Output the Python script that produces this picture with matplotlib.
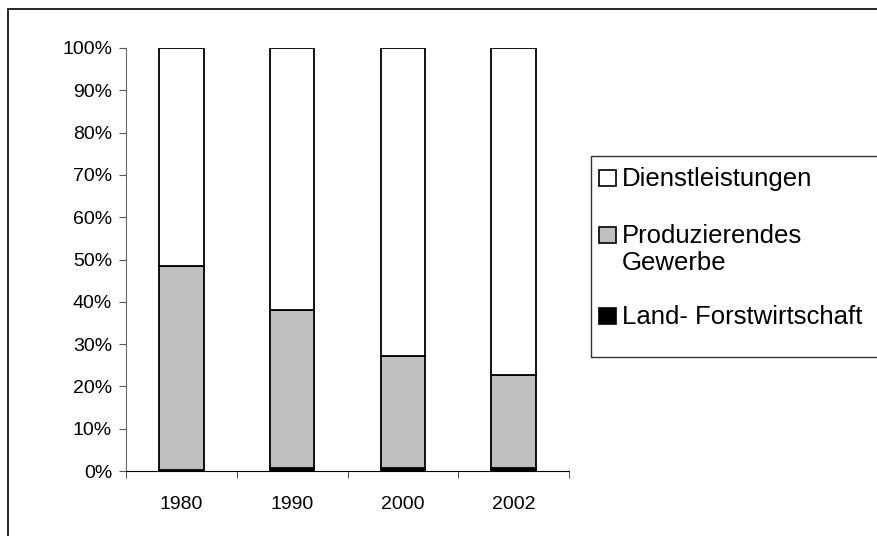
import matplotlib
matplotlib.use('Agg')
import matplotlib.pyplot as plt
from matplotlib.patches import Rectangle
from matplotlib.ticker import FixedLocator

plt.rcParams['font.family'] = ['Liberation Sans', 'DejaVu Sans']

# data (percent shares)
years = ['1980', '1990', '2000', '2002']
land = [0.3, 0.6, 0.6, 0.6]
gewerbe = [48.2, 37.5, 26.6, 22.0]
dienst = [51.5, 61.9, 72.8, 77.4]
labels = ['Dienstleistungen', 'Produzierendes\nGewerbe', 'Land- Forstwirtschaft']
colors = ['white', '#C0C0C0', 'black']

W, H = 877, 536
fig = plt.figure(figsize=(W / 100, H / 100), dpi=100)

def fx(x):
    return x / W

def fy(y):
    return 1 - y / H

ax = fig.add_axes([fx(126), fy(471), fx(569) - fx(126), fy(48) - fy(471)])

x = range(len(years))
bottom2 = [a + b for a, b in zip(land, gewerbe)]
ax.bar(x, land, width=0.4, color=colors[2], edgecolor='black', linewidth=1.3)
ax.bar(x, gewerbe, width=0.4, bottom=land, color=colors[1], edgecolor='black', linewidth=1.3)
ax.bar(x, dienst, width=0.4, bottom=bottom2, color=colors[0], edgecolor='black', linewidth=1.3)

ax.set_xlim(-0.5, 3.5)
ax.set_ylim(0, 100)
ax.set_yticks(range(0, 101, 10))
ax.set_yticklabels([f'{v}%' for v in range(0, 101, 10)], fontsize=14)
ax.set_xticks(list(x))
ax.set_xticklabels(years, fontsize=14)
ax.xaxis.set_minor_locator(FixedLocator([-0.5, 0.5, 1.5, 2.5, 3.5]))
ax.tick_params(axis='x', which='major', length=0, pad=18)
ax.tick_params(axis='x', which='minor', length=5, direction='out', color='#333333')
ax.tick_params(axis='y', length=5, direction='out', color='#555555', pad=5)

for s in ['top', 'right']:
    ax.spines[s].set_visible(False)
ax.spines['left'].set_color('#666666')
ax.spines['bottom'].set_color('black')

# outer chart frame (cut at right and bottom edge)
fig.add_artist(Rectangle((fx(8), fy(560)), fx(920) - fx(8), fy(9) - fy(560),
                         transform=fig.transFigure, fill=False,
                         edgecolor='black', linewidth=1.2, clip_on=False))

# legend box
fig.add_artist(Rectangle((fx(591), fy(357)), fx(900) - fx(591), fy(156) - fy(357),
                         transform=fig.transFigure, fill=False,
                         edgecolor='#333333', linewidth=1.0, clip_on=False))

baselines = [186, 243, 324]
for lab, col, yb in zip(labels, colors, baselines):
    fig.add_artist(Rectangle((fx(599), fy(yb)), fx(616) - fx(599), fy(yb - 16) - fy(yb),
                             transform=fig.transFigure, facecolor=col,
                             edgecolor='black', linewidth=1.2))
    for i, line in enumerate(lab.split('\n')):
        fig.text(fx(622), fy(yb + 27 * i), line, fontsize=18.5,
                 va='baseline', ha='left')

fig.savefig('out.png', dpi=100)
